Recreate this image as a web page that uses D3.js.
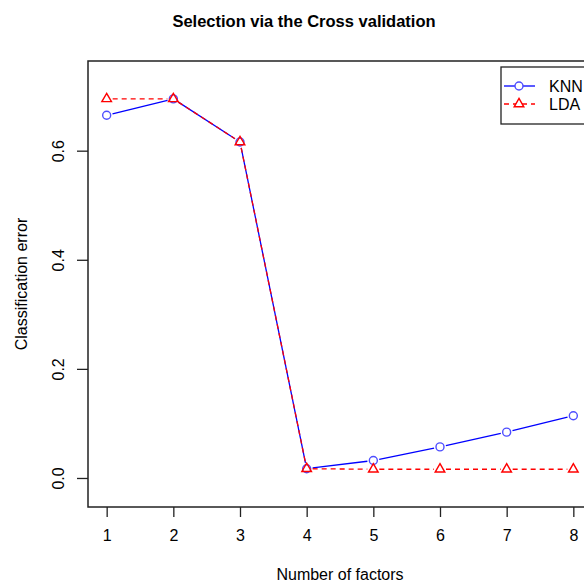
<!doctype html>
<html lang="en">
<head>
<meta charset="utf-8">
<title>Selection via the Cross validation</title>
<script src="https://cdn.jsdelivr.net/npm/d3@7"></script>
<style>
  body { margin: 0; background: #fff; }
  svg { display: block; font-family: "Liberation Sans", Arial, sans-serif; }
</style>
</head>
<body>
<div id="chart"></div>
<script>

// data
var factors = [1, 2, 3, 4, 5, 6, 7, 8];
var knnError = [0.665, 0.695, 0.616, 0.017, 0.032, 0.057, 0.084, 0.114];
var ldaError = [0.695, 0.695, 0.616, 0.017, 0.016, 0.016, 0.016, 0.016];
var yTicks = [0.0, 0.2, 0.4, 0.6];
var seriesNames = ["KNN", "LDA"];

var width = 584, height = 582;

var svg = d3.select("#chart").append("svg")
    .attr("width", width)
    .attr("height", height);

// plot box (right side runs off the window, like the original)
var boxLeft = 88, boxRight = 592, boxTop = 61, boxBottom = 507;

var x = d3.scaleLinear().domain([0.72, 8.28]).range([boxLeft, boxRight]);
var y = d3.scaleLinear().domain([-0.0532, 0.7644]).range([boxBottom, boxTop]);

// box
svg.append("rect")
    .attr("x", boxLeft).attr("y", boxTop)
    .attr("width", boxRight - boxLeft).attr("height", boxBottom - boxTop)
    .attr("fill", "none").attr("stroke", "#222").attr("stroke-width", 1.5);

// x axis
var xAxis = svg.append("g")
    .attr("transform", "translate(0," + boxBottom + ")")
    .call(d3.axisBottom(x).tickValues(factors).tickSize(10).tickPadding(13).tickFormat(d3.format("d")));
xAxis.select(".domain").remove();
xAxis.selectAll("line").attr("stroke", "#222").attr("stroke-width", 1.3);
xAxis.selectAll("text").attr("font-size", 16).attr("fill", "#000");

// y axis, labels turned like R does
var yAxis = svg.append("g")
    .attr("transform", "translate(" + boxLeft + ",0)")
    .call(d3.axisLeft(y).tickValues(yTicks).tickSize(11).tickFormat(d3.format(".1f")));
yAxis.select(".domain").remove();
yAxis.selectAll("line").attr("stroke", "#222").attr("stroke-width", 1.3);
yAxis.selectAll("text")
    .attr("font-size", 16).attr("fill", "#000")
    .attr("x", null).attr("dy", null)
    .attr("text-anchor", "middle")
    .attr("transform", "translate(-29,0) rotate(-90) translate(0,5)");

// titles
svg.append("text")
    .attr("x", 304).attr("y", 27)
    .attr("text-anchor", "middle")
    .attr("font-size", 16.5).attr("font-weight", "bold")
    .text("Selection via the Cross validation");

svg.append("text")
    .attr("x", 340).attr("y", 580)
    .attr("text-anchor", "middle")
    .attr("font-size", 16)
    .text("Number of factors");

svg.append("text")
    .attr("transform", "translate(27,284) rotate(-90)")
    .attr("text-anchor", "middle")
    .attr("font-size", 16)
    .text("Classification error");

// type = "b": segments with a gap round each point
function gappedSegments(values, gap) {
    var segs = [];
    for (var i = 0; i < values.length - 1; i++) {
        var x0 = x(factors[i]), y0 = y(values[i]);
        var x1 = x(factors[i + 1]), y1 = y(values[i + 1]);
        var len = Math.sqrt((x1 - x0) * (x1 - x0) + (y1 - y0) * (y1 - y0));
        if (len <= 2 * gap) continue;
        var ux = (x1 - x0) / len, uy = (y1 - y0) / len;
        segs.push([x0 + ux * gap, y0 + uy * gap, x1 - ux * gap, y1 - uy * gap]);
    }
    return segs;
}

var triangle = d3.symbol().type(d3.symbolTriangle).size(40);

// KNN
svg.append("g").selectAll("line")
    .data(gappedSegments(knnError, 6))
    .enter().append("line")
    .attr("x1", function(d) { return d[0]; })
    .attr("y1", function(d) { return d[1]; })
    .attr("x2", function(d) { return d[2]; })
    .attr("y2", function(d) { return d[3]; })
    .attr("stroke", "#0000ff").attr("stroke-width", 1.3);

svg.append("g").selectAll("circle")
    .data(knnError)
    .enter().append("circle")
    .attr("cx", function(d, i) { return x(factors[i]); })
    .attr("cy", function(d) { return y(d); })
    .attr("r", 4)
    .attr("fill", "none").attr("stroke", "#4d4dff").attr("stroke-width", 1.4);

// LDA
svg.append("g").selectAll("line")
    .data(gappedSegments(ldaError, 6))
    .enter().append("line")
    .attr("x1", function(d) { return d[0]; })
    .attr("y1", function(d) { return d[1]; })
    .attr("x2", function(d) { return d[2]; })
    .attr("y2", function(d) { return d[3]; })
    .attr("stroke", "#ff0000").attr("stroke-width", 1.3)
    .attr("stroke-dasharray", "5,4");

svg.append("g").selectAll("path")
    .data(ldaError)
    .enter().append("path")
    .attr("d", triangle)
    .attr("transform", function(d, i) { return "translate(" + x(factors[i]) + "," + y(d) + ")"; })
    .attr("fill", "none").attr("stroke", "#ff0000").attr("stroke-width", 1.4);

// legend
var legend = svg.append("g");
legend.append("rect")
    .attr("x", 501).attr("y", 67)
    .attr("width", 110).attr("height", 57)
    .attr("fill", "#fff").attr("stroke", "#222").attr("stroke-width", 1.3);

var legendY = [86, 104];
seriesNames.forEach(function(name, i) {
    var ly = legendY[i];
    var line = legend.append("line")
        .attr("x1", 504).attr("x2", 535)
        .attr("y1", ly).attr("y2", ly)
        .attr("stroke-width", 1.3);
    if (i === 0) {
        line.attr("stroke", "#0000ff");
        legend.append("circle")
            .attr("cx", 519).attr("cy", ly).attr("r", 4)
            .attr("fill", "#fff").attr("stroke", "#4d4dff").attr("stroke-width", 1.4);
    } else {
        line.attr("stroke", "#ff0000").attr("stroke-dasharray", "5,4");
        legend.append("path")
            .attr("d", triangle)
            .attr("transform", "translate(519," + ly + ")")
            .attr("fill", "#fff").attr("stroke", "#ff0000").attr("stroke-width", 1.4);
    }
    legend.append("text")
        .attr("x", 549).attr("y", ly + 6)
        .attr("font-size", 16)
        .text(name);
});

</script>
</body>
</html>
